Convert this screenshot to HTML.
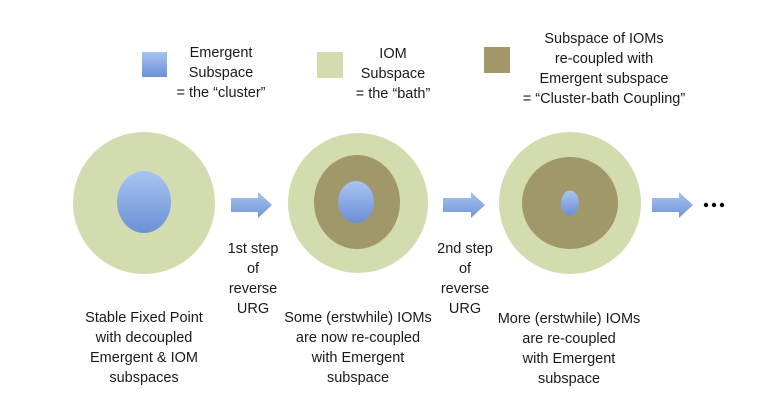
<!DOCTYPE html>
<html><head><meta charset="utf-8"><style>
html,body{margin:0;padding:0;background:#fff;width:768px;height:403px;overflow:hidden}
svg text{font-family:"Liberation Sans",sans-serif;font-size:14.5px;fill:#1a1a1a;text-anchor:middle}
</style></head><body>
<svg width="768" height="403" viewBox="0 0 768 403" xmlns="http://www.w3.org/2000/svg">
<defs>
<linearGradient id="bl" x1="0" y1="0" x2="0" y2="1"><stop offset="0" stop-color="#a9c4f3"/><stop offset="1" stop-color="#6b90d6"/></linearGradient>
<linearGradient id="ar" x1="0" y1="0" x2="0" y2="1"><stop offset="0" stop-color="#a7c2ef"/><stop offset="1" stop-color="#7096d8"/></linearGradient>
</defs>
<!-- legend -->
<rect x="142" y="52" width="25" height="25" fill="url(#bl)"/>
<rect x="317" y="52" width="26" height="26" fill="#d2dcae"/>
<rect x="484" y="47" width="26" height="26" fill="#a09868"/>
<text x="221" y="57">Emergent</text><text x="221" y="77">Subspace</text><text x="221" y="97">= the “cluster”</text>
<text x="393" y="58">IOM</text><text x="393" y="78">Subspace</text><text x="393" y="98">= the “bath”</text>
<text x="604" y="43">Subspace of IOMs</text><text x="604" y="63">re-coupled with</text><text x="604" y="83">Emergent subspace</text><text x="604" y="103">= “Cluster-bath Coupling”</text>
<!-- circles -->
<circle cx="144" cy="203" r="71" fill="#d2dcae"/>
<ellipse cx="144" cy="202" rx="27" ry="31" fill="url(#bl)"/>
<circle cx="358" cy="203" r="70" fill="#d2dcae"/>
<ellipse cx="357" cy="202" rx="43" ry="47" fill="#a09868"/>
<ellipse cx="356" cy="202" rx="18" ry="21" fill="url(#bl)"/>
<circle cx="570" cy="203" r="71" fill="#d2dcae"/>
<ellipse cx="570" cy="203" rx="48" ry="46" fill="#a09868"/>
<ellipse cx="570" cy="203" rx="9" ry="12.5" fill="url(#bl)"/>
<!-- arrows -->
<polygon points="231,198 258,198 258,192 272,205 258,218 258,212 231,212" fill="url(#ar)"/>
<polygon points="443,198 471,198 471,192 485,205 471,218 471,212 443,212" fill="url(#ar)"/>
<polygon points="652,198 679,198 679,192 693,205 679,218 679,212 652,212" fill="url(#ar)"/>
<circle cx="706" cy="205" r="2.2" fill="#000"/><circle cx="714" cy="205" r="2.2" fill="#000"/><circle cx="722" cy="205" r="2.2" fill="#000"/>
<!-- step labels -->
<text x="253" y="253">1st step</text><text x="253" y="273">of</text><text x="253" y="293">reverse</text><text x="253" y="313">URG</text>
<text x="465" y="253">2nd step</text><text x="465" y="273">of</text><text x="465" y="293">reverse</text><text x="465" y="313">URG</text>
<!-- captions -->
<text x="144" y="322">Stable Fixed Point</text><text x="144" y="342">with decoupled</text><text x="144" y="362">Emergent &amp; IOM</text><text x="144" y="382">subspaces</text>
<text x="358" y="322">Some (erstwhile) IOMs</text><text x="358" y="342">are now re-coupled</text><text x="358" y="362">with Emergent</text><text x="358" y="382">subspace</text>
<text x="569" y="323">More (erstwhile) IOMs</text><text x="569" y="343">are re-coupled</text><text x="569" y="363">with Emergent</text><text x="569" y="383">subspace</text>
</svg>
</body></html>
